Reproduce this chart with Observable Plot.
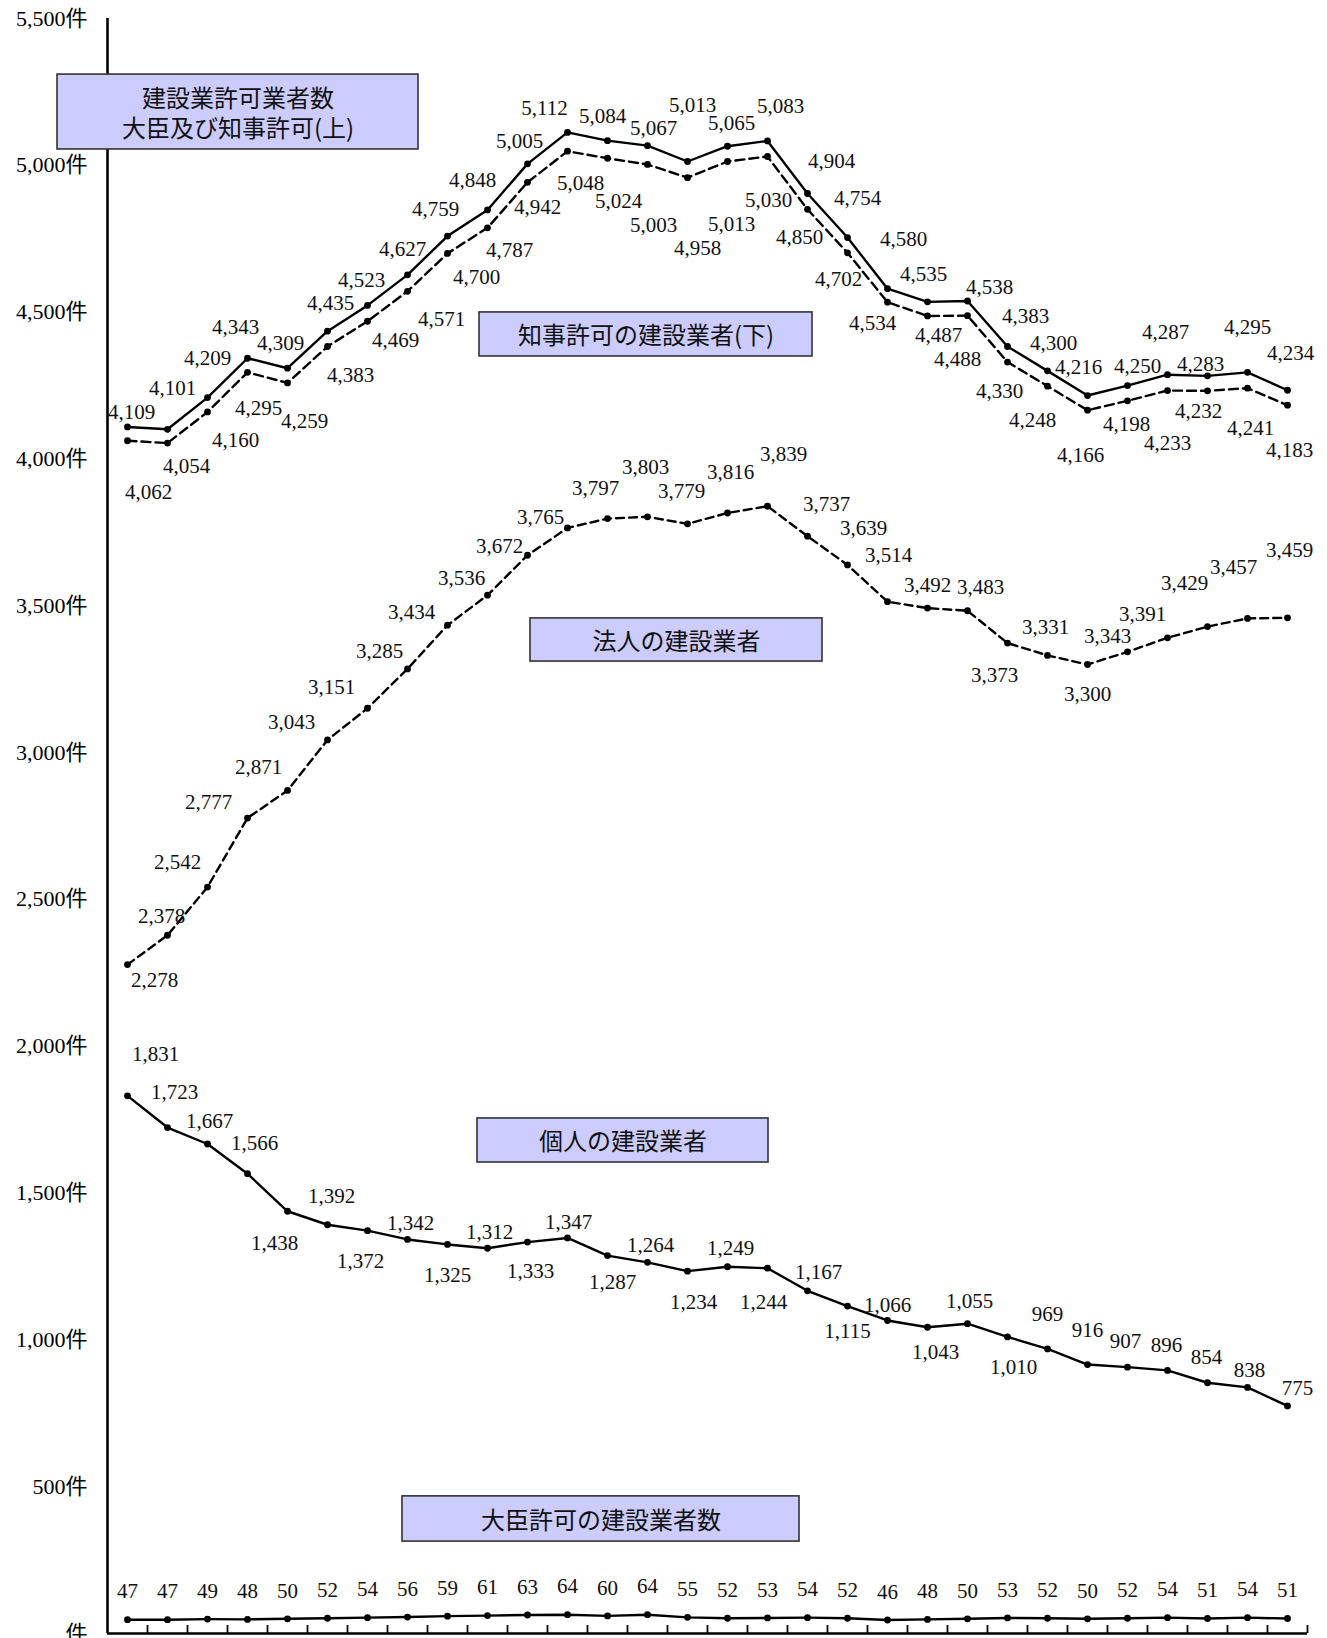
<!DOCTYPE html>
<html>
<head>
<meta charset="utf-8">
<script src="https://cdn.jsdelivr.net/npm/d3@7"></script>
<script src="https://cdn.jsdelivr.net/npm/@observablehq/plot@0.6"></script>
<style>
html, body { margin: 0; padding: 0; background: #fff; overflow: hidden; }
</style>
</head>
<body>
<div id="chart"></div>
<script>
// ---------------- DATA ----------------
// 30 consecutive periods (period labels are not shown in the chart)
const periods = d3.range(30);

// 建設業許可業者数 大臣及び知事許可 (上)
const totalCount = [4109, 4101, 4209, 4343, 4309, 4435, 4523, 4627, 4759, 4848,
  5005, 5112, 5084, 5067, 5013, 5065, 5083, 4904, 4754, 4580,
  4535, 4538, 4383, 4300, 4216, 4250, 4287, 4283, 4295, 4234];

// 知事許可の建設業者 (下)
const governorCount = [4062, 4054, 4160, 4295, 4259, 4383, 4469, 4571, 4700, 4787,
  4942, 5048, 5024, 5003, 4958, 5013, 5030, 4850, 4702, 4534,
  4487, 4488, 4330, 4248, 4166, 4198, 4233, 4232, 4241, 4183];

// 法人の建設業者
const corporateCount = [2278, 2378, 2542, 2777, 2871, 3043, 3151, 3285, 3434, 3536,
  3672, 3765, 3797, 3803, 3779, 3816, 3839, 3737, 3639, 3514,
  3492, 3483, 3373, 3331, 3300, 3343, 3391, 3429, 3457, 3459];

// 個人の建設業者
const individualCount = [1831, 1723, 1667, 1566, 1438, 1392, 1372, 1342, 1325, 1312,
  1333, 1347, 1287, 1264, 1234, 1249, 1244, 1167, 1115, 1066,
  1043, 1055, 1010, 969, 916, 907, 896, 854, 838, 775];

// 大臣許可の建設業者数
const ministerCount = [47, 47, 49, 48, 50, 52, 54, 56, 59, 61,
  63, 64, 60, 64, 55, 52, 53, 54, 52, 46,
  48, 50, 53, 52, 50, 52, 54, 51, 54, 51];

// Y tick values (labels: "5,500件" ... "件")
const yTicks = [0, 500, 1000, 1500, 2000, 2500, 3000, 3500, 4000, 4500, 5000, 5500];
const yUnit = "件";

// Series titles shown in the boxes
const boxTitles = [
  "建設業許可業者数\n大臣及び知事許可(上)",
  "知事許可の建設業者(下)",
  "法人の建設業者",
  "個人の建設業者",
  "大臣許可の建設業者数"
];

// ---------------- LAYOUT (not data) ----------------
const SERIF = "'Liberation Serif', 'Noto Sans CJK JP', serif";
const SANS_JP = "'Noto Sans CJK JP', 'Noto Sans', sans-serif";
const xDomain = [-0.5, 29.5];
const yDomain = [0, 5500];

// annotation boxes in data units [x1, x2, y1, y2]
const boxExtents = [
  [-1.75, 7.275, 5054, 5309],
  [8.8, 17.125, 4349, 4499],
  [10.075, 17.375, 3310, 3457],
  [8.75, 16.025, 1604, 1754],
  [6.875, 16.8, 313, 467]
];
const boxes = boxTitles.map((t, k) => ({text: t, x1: boxExtents[k][0], x2: boxExtents[k][1], y1: boxExtents[k][2], y2: boxExtents[k][3]}));

// label offsets in pixels [dx, dy] per point
const offTotal = [[4,-15],[5,-41],[0,-39],[-12,-31],[-7,-25],[3,-28],[-6,-25],[-5,-26],[-12,-27],[-15,-30],
  [-8,-23],[-23,-24],[-5,-24],[6,-17],[5,-56],[4,-23],[13,-35],[24,-32],[10,-39],[16,-49],
  [-4,-28],[22,-14],[18,-30],[6,-28],[-9,-28],[10,-19],[-2,-42],[-7,-12],[0,-45],[3,-37]];
const offGov = [[21,52],[19,23],[28,28],[11,36],[17,38],[23,29],[28,19],[34,28],[29,24],[22,22],
  [10,25],[13,32],[11,43],[6,61],[10,71],[4,63],[1,44],[-8,28],[-9,26],[-15,21],
  [11,19],[-10,44],[-8,29],[-15,34],[-7,45],[-1,23],[0,53],[-9,20],[3,40],[2,45]];
const offCorp = [[27,16],[-6,-19],[-30,-25],[-39,-16],[-29,-23],[-36,-18],[-36,-21],[-28,-18],[-36,-13],[-26,-17],
  [-28,-9],[-27,-11],[-12,-30],[-2,-50],[-6,-33],[3,-41],[16,-52],[19,-32],[16,-37],[1,-46],
  [0,-23],[13,-23],[-13,32],[-2,-28],[0,30],[-20,-16],[-25,-24],[-23,-43],[-14,-51],[2,-68]];
const offInd = [[28,-42],[7,-35],[2,-23],[7,-30],[-13,32],[4,-28],[-7,31],[3,-16],[0,31],[2,-16],
  [3,29],[1,-16],[5,27],[3,-17],[6,31],[3,-18],[-4,34],[11,-19],[0,25],[0,-15],
  [8,25],[2,-22],[6,30],[0,-35],[0,-34],[-2,-26],[-1,-25],[-1,-25],[2,-17],[10,-18]];
const offMin = periods.map(() => [0, -28]);

const fmt = d3.format(",");

function seriesMarks(values, offsets, dash) {
  const rows = values.map((v, i) => ({i, v}));
  const marks = [
    Plot.line(rows, {x: "i", y: "v", stroke: "black", strokeWidth: 2.4, strokeDasharray: dash || null}),
    Plot.dot(rows, {x: "i", y: "v", r: 3.4, fill: "black"})
  ];
  rows.forEach((row, k) => {
    marks.push(Plot.text([row], {
      x: "i", y: "v", text: d => fmt(d.v),
      dx: offsets[k][0], dy: offsets[k][1],
      fontSize: 21, fontFamily: SERIF, fill: "#111"
    }));
  });
  return marks;
}

const boundaries = periods.map(i => i + 0.5);

const chart = Plot.plot({
  width: 1327,
  height: 1638,
  marginLeft: 107,
  marginRight: 20,
  marginTop: 18,
  marginBottom: 5,
  x: {domain: xDomain, axis: null},
  y: {domain: yDomain, axis: null},
  style: {background: "white", overflow: "visible", color: "black"},
  marks: [
    // axes
    Plot.axisY(yTicks, {tickSize: 0, tickPadding: 20, label: null, fontSize: 22, fontFamily: SERIF,
      tickFormat: d => (d === 0 ? "" : fmt(d)) + yUnit}),
    Plot.ruleX([xDomain[0]], {y1: yDomain[0], y2: yDomain[1], stroke: "black", strokeWidth: 2.6}),
    Plot.ruleY([yDomain[0]], {x1: xDomain[0], x2: xDomain[1], stroke: "black", strokeWidth: 2.6}),
    Plot.ruleX(boundaries, {x: d => d, y1: yDomain[0], y2: yDomain[0], insetTop: -8, stroke: "black", strokeWidth: 1.8}),
    // boxes (drawn over the axis line, as in the original)
    Plot.rect(boxes, {x1: "x1", x2: "x2", y1: "y1", y2: "y2", fill: "#ccccff", stroke: "#333", strokeWidth: 1.6}),
    Plot.text(boxes, {x: d => (d.x1 + d.x2) / 2, y: d => (d.y1 + d.y2) / 2, text: "text",
      fontSize: 24, lineHeight: 1.25, fontFamily: SANS_JP, fill: "#111"}),
    // series
    ...seriesMarks(totalCount, offTotal, null),
    ...seriesMarks(governorCount, offGov, "9,5"),
    ...seriesMarks(corporateCount, offCorp, "8,5"),
    ...seriesMarks(individualCount, offInd, null),
    ...seriesMarks(ministerCount, offMin, null)
  ]
});

document.getElementById("chart").appendChild(chart);
</script>
</body>
</html>
